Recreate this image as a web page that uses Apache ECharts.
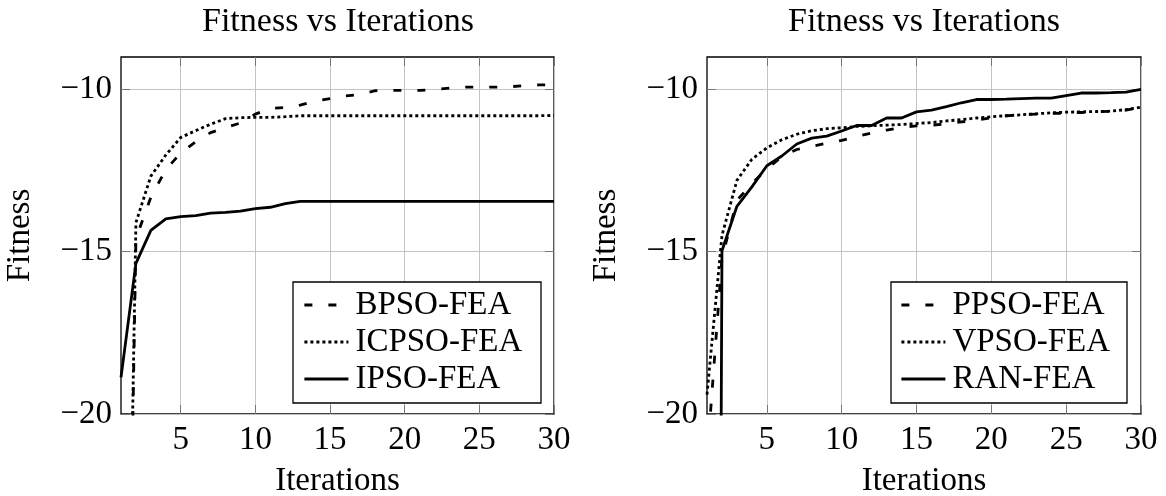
<!DOCTYPE html>
<html>
<head>
<meta charset="utf-8">
<script src="https://cdn.jsdelivr.net/npm/echarts@6/dist/echarts.min.js"></script>
<style>
	html, body { margin: 0; padding: 0; background: #fff; }
	#chart { width: 1166px; height: 496px; }
</style>
</head>
<body>
<div id="chart"></div>
<script>
var iterations = [1, 2, 3, 4, 5, 6, 7, 8, 9, 10, 11, 12, 13, 14, 15, 16, 17, 18, 19, 20, 21, 22, 23, 24, 25, 26, 27, 28, 29, 30];

// left panel
var bpso = [-41.6, -14.6, -13.32, -12.47, -11.96, -11.61, -11.33, -11.18, -11.03, -10.76, -10.58, -10.56, -10.48, -10.36, -10.28, -10.2, -10.16, -10.04, -10.03, -10.03, -10.03, -10.0, -9.96, -9.93, -9.93, -9.93, -9.92, -9.88, -9.86, -9.85];
var icpso = [-40.9, -14.1, -12.67, -12.02, -11.48, -11.27, -11.07, -10.9, -10.87, -10.86, -10.86, -10.84, -10.81, -10.81, -10.81, -10.81, -10.81, -10.81, -10.81, -10.81, -10.81, -10.81, -10.81, -10.81, -10.81, -10.81, -10.81, -10.81, -10.81, -10.8];
var ipso = [-18.87, -15.36, -14.34, -13.99, -13.92, -13.89, -13.81, -13.79, -13.75, -13.67, -13.63, -13.52, -13.45, -13.45, -13.45, -13.45, -13.45, -13.45, -13.45, -13.45, -13.45, -13.45, -13.45, -13.45, -13.45, -13.45, -13.45, -13.45, -13.45, -13.45];

// right panel
var ppso = [-21.4, -15.2, -13.42, -12.9, -12.45, -12.07, -11.85, -11.75, -11.66, -11.57, -11.45, -11.34, -11.25, -11.17, -11.12, -11.1, -11.06, -11.0, -10.95, -10.87, -10.81, -10.78, -10.76, -10.74, -10.73, -10.71, -10.69, -10.67, -10.64, -10.55];
var vpso = [-19.4, -14.5, -12.8, -12.15, -11.8, -11.55, -11.38, -11.27, -11.21, -11.18, -11.14, -11.12, -11.1, -11.08, -11.05, -11.02, -10.97, -10.93, -10.88, -10.84, -10.81, -10.78, -10.75, -10.72, -10.7, -10.69, -10.68, -10.67, -10.62, -10.55];
var ran = [-116, -14.97, -13.6, -13.0, -12.35, -12.05, -11.68, -11.5, -11.44, -11.28, -11.11, -11.11, -10.88, -10.88, -10.69, -10.64, -10.53, -10.41, -10.31, -10.31, -10.3, -10.28, -10.27, -10.27, -10.19, -10.11, -10.11, -10.1, -10.08, -10.0];

var xTicks = [5, 10, 15, 20, 25, 30];
var yTicks = [-20, -15, -10];
var leftNames = ['BPSO-FEA', 'ICPSO-FEA', 'IPSO-FEA'];
var rightNames = ['PPSO-FEA', 'VPSO-FEA', 'RAN-FEA'];

var FONT = 'Liberation Serif';
var DASHED = [8, 16];
var DOTTED = [3, 3];

function pairs(ys) {
	return iterations.map(function(x, i) {
		return [x, ys[i]];
	});
}

function xAxisFor(grid, pos, labels) {
	return {
		type: 'value',
		gridIndex: grid,
		position: pos,
		min: 1,
		max: 30,
		name: labels ? 'Iterations' : '',
		nameLocation: 'middle',
		nameGap: 51,
		nameTextStyle: { fontFamily: FONT, fontSize: 33, color: '#000' },
		axisLine: { show: false },
		axisTick: { show: true, inside: true, length: 9, customValues: xTicks, lineStyle: { color: '#777', width: 1 } },
		axisLabel: { show: labels, customValues: xTicks, margin: 10, fontFamily: FONT, fontSize: 33, color: '#000' },
		splitLine: { show: labels, lineStyle: { color: '#c4c4c4', width: 1 } }
	};
}

function yAxisFor(grid, pos, labels) {
	return {
		type: 'value',
		gridIndex: grid,
		position: pos,
		min: -20,
		max: -9,
		name: labels ? 'Fitness' : '',
		nameLocation: 'middle',
		nameGap: 84,
		nameTextStyle: { fontFamily: FONT, fontSize: 33, color: '#000' },
		axisLine: { show: false },
		axisTick: { show: true, inside: true, length: 9, customValues: yTicks, lineStyle: { color: '#777', width: 1 } },
		axisLabel: {
			show: labels,
			customValues: yTicks,
			margin: 9,
			fontFamily: FONT,
			fontSize: 33,
			color: '#000',
			formatter: function(v) {
				return v < 0 ? '\u2212' + Math.abs(v) : String(v);
			}
		},
		splitLine: { show: labels, lineStyle: { color: '#c4c4c4', width: 1 } }
	};
}

function lineSeries(name, axis, ys, dash) {
	return {
		name: name,
		type: 'line',
		xAxisIndex: axis,
		yAxisIndex: axis,
		data: pairs(ys),
		symbol: 'none',
		showSymbol: false,
		clip: true,
		z: 2,
		color: '#000',
		itemStyle: { color: '#000' },
		lineStyle: { color: '#000', width: 2.8, type: dash }
	};
}

function legendFor(names, left) {
	return {
		data: names,
		orient: 'vertical',
		left: left,
		top: 287,
		itemWidth: 44,
		itemHeight: 14,
		itemGap: 1,
		padding: 0,
		z: 10,
		selectedMode: false,
		itemStyle: { opacity: 0 },
		lineStyle: { width: 2.8 },
		textStyle: { fontFamily: FONT, fontSize: 33, color: '#000', lineHeight: 36, padding: [0, 0, 0, 2] }
	};
}

var chart = echarts.init(document.getElementById('chart'));

var option = {
	animation: false,
	backgroundColor: '#fff',
	title: [{
		text: 'Fitness vs Iterations',
		left: 338,
		top: 5,
		padding: 0,
		textAlign: 'center',
		textStyle: { fontFamily: FONT, fontSize: 34, fontWeight: 'normal', color: '#000' }
	}, {
		text: 'Fitness vs Iterations',
		left: 924,
		top: 5,
		padding: 0,
		textAlign: 'center',
		textStyle: { fontFamily: FONT, fontSize: 34, fontWeight: 'normal', color: '#000' }
	}],
	grid: [
		{ left: 121, top: 57, width: 433, height: 357, outerBoundsMode: 'none', containLabel: false, show: true, borderColor: '#000', borderWidth: 1.3, backgroundColor: 'transparent' },
		{ left: 707, top: 57, width: 434, height: 357, outerBoundsMode: 'none', containLabel: false, show: true, borderColor: '#000', borderWidth: 1.3, backgroundColor: 'transparent' }
	],
	xAxis: [xAxisFor(0, 'bottom', true), xAxisFor(0, 'top', false), xAxisFor(1, 'bottom', true), xAxisFor(1, 'top', false)],
	yAxis: [yAxisFor(0, 'left', true), yAxisFor(0, 'right', false), yAxisFor(1, 'left', true), yAxisFor(1, 'right', false)],
	legend: [legendFor(leftNames, 303), legendFor(rightNames, 900)],
	graphic: [{
		type: 'rect',
		z: 5,
		shape: { x: 293, y: 282, width: 248, height: 121 },
		style: { fill: '#fff', stroke: '#000', lineWidth: 1.3 }
	}, {
		type: 'rect',
		z: 5,
		shape: { x: 891, y: 282, width: 236, height: 121 },
		style: { fill: '#fff', stroke: '#000', lineWidth: 1.3 }
	}],
	series: [
		lineSeries('BPSO-FEA', 0, bpso, DASHED),
		lineSeries('ICPSO-FEA', 0, icpso, DOTTED),
		lineSeries('IPSO-FEA', 0, ipso, 'solid'),
		lineSeries('PPSO-FEA', 2, ppso, DASHED),
		lineSeries('VPSO-FEA', 2, vpso, DOTTED),
		lineSeries('RAN-FEA', 2, ran, 'solid')
	]
};

chart.setOption(option);
</script>
</body>
</html>
